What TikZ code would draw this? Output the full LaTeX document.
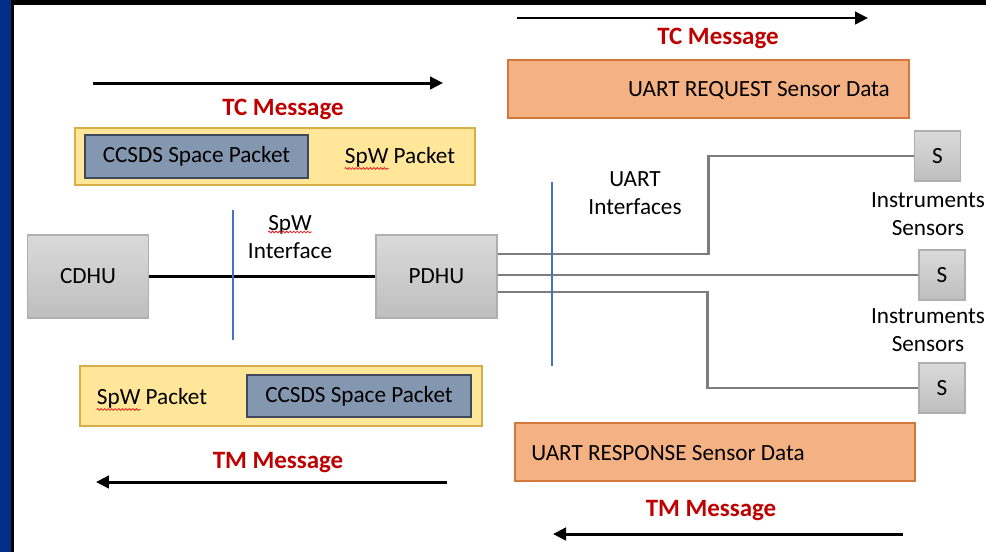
\documentclass[tikz,border=0pt]{standalone}
\usepackage{fontspec}
\setmainfont{Carlito}
\usetikzlibrary{arrows.meta,decorations.pathmorphing}

\definecolor{frameblue}{RGB}{0,48,135}
\definecolor{msgred}{RGB}{192,0,0}
\definecolor{spellred}{RGB}{230,30,30}
\definecolor{pktfill}{RGB}{255,230,153}
\definecolor{pktedge}{RGB}{214,176,70}
\definecolor{ccsdsfill}{RGB}{132,151,176}
\definecolor{ccsdsedge}{RGB}{62,74,92}
\definecolor{uartfill}{RGB}{244,177,131}
\definecolor{uartedge}{RGB}{214,120,60}
\definecolor{unittop}{RGB}{218,218,218}
\definecolor{unitbot}{RGB}{190,190,190}
\definecolor{unitedge}{RGB}{175,175,175}
\definecolor{linegray}{RGB}{125,125,125}
\definecolor{cutblue}{RGB}{68,114,196}

\begin{document}
\begin{tikzpicture}[x=0.02cm,y=-0.02cm,
	txt/.style={font=\fontsize{13.2}{16}\selectfont,inner sep=0pt,align=center},
	unit/.style={txt,draw=unitedge,top color=unittop,bottom color=unitbot,line width=0.6pt,minimum width=2.42cm,minimum height=1.66cm},
	sensor/.style={unit,minimum width=0.92cm,minimum height=1cm},
	spwbox/.style={draw=pktedge,fill=pktfill,line width=0.8pt,inner sep=0pt},
	ccsdsbox/.style={txt,draw=ccsdsedge,fill=ccsdsfill,line width=0.8pt,minimum width=4.46cm,minimum height=0.86cm},
	uartbox/.style={draw=uartedge,fill=uartfill,line width=0.8pt,inner sep=0pt,minimum width=8.02cm,minimum height=1.16cm},
	msg/.style={text=msgred,font=\bfseries\fontsize{14.2}{16}\selectfont,inner sep=0pt},
	flow/.style={line width=1.7pt,-{Triangle[length=0.26cm,width=0.25cm]}},
	uart/.style={draw=linegray,line width=1.4pt},
	cut/.style={draw=cutblue,line width=0.6pt},
	spell/.style={draw=spellred,line width=0.45pt,decorate,decoration={snake,amplitude=0.5pt,segment length=2pt}}]
	\useasboundingbox (0,0) rectangle (986,552);
	\fill[white] (0,0) rectangle (986,552);
	% slide frame
	\fill[frameblue] (0,0) rectangle (11,552);
	\fill[black] (11,0) rectangle (14,552);
	\fill[black] (11,0) rectangle (986,5);

	% TC side, SpW
	\coordinate (tcL0) at (93,83);
	\coordinate (tcL1) at (443,83);
	\draw[flow] (tcL0) -- (tcL1);
	\node[msg] (tcmsgL) at (283,109) {TC Message};
	\node[spwbox,minimum width=8cm,minimum height=1.14cm] (tcpkt) at (275,156.5) {};
	\node[ccsdsbox] (tcccsds) at (196.5,156.5) {CCSDS Space Packet};
	\node[txt] (tcspw) at (400,157) {SpW Packet};
	\draw[spell] ([yshift=-3pt]tcspw.base west) -- ++(44,0);

	% TC side, UART
	\coordinate (tcR0) at (517,18);
	\coordinate (tcR1) at (868,18);
	\draw[flow] (tcR0) -- (tcR1);
	\node[msg] (tcmsgR) at (718,38) {TC Message};
	\node[uartbox] (reqbox) at (708.5,89) {};
	\node[txt] (reqtxt) at (759,91) {UART REQUEST Sensor Data};

	% units
	\node[unit] (cdhu) at (88,276.5) {CDHU};
	\node[unit] (pdhu) at (436.5,276.5) {PDHU};
	\node[sensor] (sensA) at (937.5,156) {S};
	\node[sensor] (sensB) at (942,275) {S};
	\node[sensor] (sensC) at (942,388) {S};
	\node[txt] (instA) at (928,214) {Instruments\\Sensors};
	\node[txt] (instB) at (928,330) {Instruments\\Sensors};

	% links
	\draw[line width=1.7pt] (cdhu) -- (pdhu);
	\draw[uart] ([yshift=0.45cm]pdhu.east) -- ++(211,0) |- (sensA);
	\draw[uart] (pdhu.east |- sensB) -- (sensB);
	\draw[uart] ([yshift=-0.31cm]pdhu.east) -- ++(210,0) |- (sensC);

	% interface cuts
	\coordinate (spwcut0) at (233,210);
	\coordinate (spwcut1) at (233,340);
	\draw[cut] (spwcut0) -- (spwcut1);
	\node[txt] (spwif) at (290,237) {SpW\\Interface};
	\draw[spell] ([xshift=-0.44cm,yshift=0.1cm]spwif.center) -- ++(44,0);
	\coordinate (uartcut0) at (552,182);
	\coordinate (uartcut1) at (552,366);
	\draw[cut] (uartcut0) -- (uartcut1);
	\node[txt] (uartif) at (635,193) {UART\\Interfaces};

	% TM side, SpW
	\node[spwbox,minimum width=8.04cm,minimum height=1.2cm] (tmpkt) at (281,396) {};
	\node[ccsdsbox,minimum width=4.48cm,minimum height=0.84cm] (tmccsds) at (359,396) {CCSDS Space Packet};
	\node[txt] (tmspw) at (152,398) {SpW Packet};
	\draw[spell] ([yshift=-3pt]tmspw.base west) -- ++(44,0);
	\node[msg] (tmmsgL) at (278,463) {TM Message};
	\coordinate (tmL0) at (447,482);
	\coordinate (tmL1) at (96,482);
	\draw[flow] (tmL0) -- (tmL1);

	% TM side, UART
	\node[uartbox,minimum width=8cm] (resbox) at (715,452) {};
	\node[txt,anchor=west] (restxt) at (531,453) {UART RESPONSE Sensor Data};
	\node[msg] (tmmsgR) at (711,511) {TM Message};
	\coordinate (tmR0) at (903,534);
	\coordinate (tmR1) at (553,534);
	\draw[flow] (tmR0) -- (tmR1);
\end{tikzpicture}
\end{document}
